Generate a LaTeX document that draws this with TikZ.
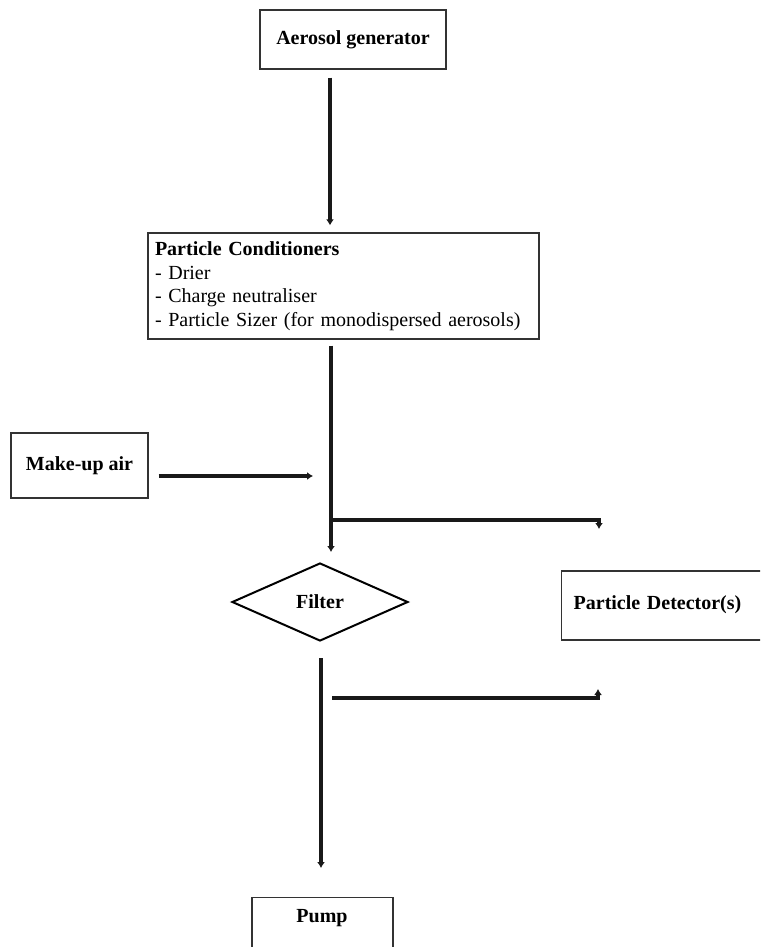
\documentclass[tikz,border=0pt]{standalone}
\usepackage{fontspec}
\setmainfont{Liberation Serif}
\usetikzlibrary{arrows.meta,shapes.geometric,calc}
\begin{document}
\begin{tikzpicture}[x=1pt,y=-1pt,
  font=\fontsize{20}{23.5}\selectfont,
  box/.style={draw=black!80,line width=1.3pt,rectangle,inner sep=0pt},
  flow/.style={draw=black!90,line width=3.3pt,-{Latex[length=6pt,width=8pt]}}]
\useasboundingbox (0,0) rectangle (760,947);
\clip (0,0) rectangle (760,947);
\node[box,minimum width=186pt,minimum height=59pt,font=\fontsize{20}{23.5}\selectfont\bfseries] (gen) at (353,39.5) {Aerosol generator};
\node[box,minimum width=391pt,minimum height=106pt,text width=377pt,align=left] (cond) at (343.5,286)
  {\textbf{Particle Conditioners}\\- Drier\\- Charge neutraliser\\- Particle Sizer (for monodispersed aerosols)};
\node[box,minimum width=137pt,minimum height=65pt,font=\fontsize{20}{23.5}\selectfont\bfseries] (makeup) at (79.5,465.5) {Make-up air};
\node[draw=black,line width=2pt,diamond,minimum width=176pt,minimum height=78pt,inner sep=0pt,font=\fontsize{20}{23.5}\selectfont\bfseries] (filter) at (320,602) {Filter};
\node[box,anchor=west,minimum width=240pt,minimum height=69pt,inner xsep=12pt,text width=216pt,align=left,font=\fontsize{20}{23.5}\selectfont\bfseries] (det) at (561,605.5) {\raisebox{6pt}{Particle Detector(s)}};
\node[box,anchor=north,minimum width=141pt,minimum height=90pt] (pump) at (322.5,897) {};
\node[font=\fontsize{20}{23.5}\selectfont\bfseries] (pumptext) at (322,918) {Pump};
% connectors
\draw[flow] ([xshift=-23pt,yshift=-8pt]gen.south) -- ([xshift=-13.5pt,yshift=7pt]cond.north);
\coordinate (j1) at ([xshift=-12.5pt,yshift=-6pt]cond.south);
\draw[flow] (j1) -- ([xshift=11pt,yshift=10pt]filter.north);
\draw[flow] ([xshift=10pt]makeup.east |- 0,476) -- (313,476);
\coordinate (b1) at (333,520);
\coordinate (b2) at (599,520);
\draw[flow] (b1) -- (b2) -- ([yshift=-9pt]b2);
\coordinate (f1) at ([xshift=1pt,yshift=-16pt]filter.south);
\draw[flow] (f1) -- ([xshift=-1.5pt,yshift=29pt]pump.north);
\coordinate (c1) at (332,698);
\coordinate (c2) at (598,698);
\draw[flow] (c1) -- (c2) -- ([yshift=9pt]c2);
\end{tikzpicture}
\end{document}
